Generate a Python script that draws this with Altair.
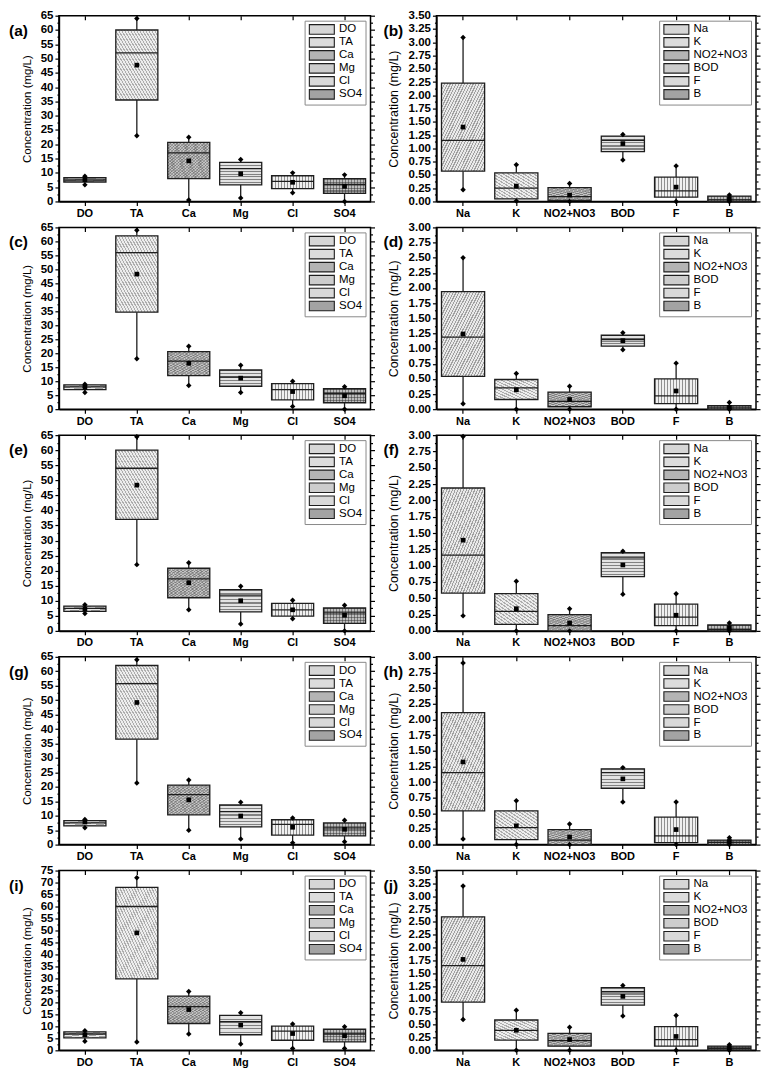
import math
import altair as alt
import pandas as pd

FONT = "Liberation Sans"

LEFT_CATS = ["DO", "TA", "Ca", "Mg", "Cl", "SO4"]
RIGHT_CATS = ["Na", "K", "NO2+NO3", "BOD", "F", "B"]
BASE_FILLS = ["#e9e9e9", "#ededed", "#c3c3c3", "#e3e3e3", "#f0f0f0", "#bdbdbd"]
LEGEND_FILLS = ["#d6d6d6", "#dcdcdc", "#b4b4b4", "#cdcdcd", "#d9d9d9", "#a3a3a3"]

# ---- panel (a) ----
A_LOW = [5.8, 23.0, 0.5, 1.2, 3.0, 0.0]
A_Q1 = [6.8, 35.5, 8.0, 5.8, 4.5, 2.8]
A_MED = [7.5, 52.0, 17.0, 11.5, 7.0, 6.0]
A_Q3 = [8.3, 60.0, 20.7, 13.7, 9.0, 8.0]
A_HIGH = [8.8, 64.0, 22.5, 14.7, 10.0, 9.3]
A_MEAN = [7.6, 47.7, 14.2, 9.7, 6.7, 5.3]
# ---- panel (b) ----
B_LOW = [0.22, 0.01, 0.0, 0.78, 0.0, 0.0]
B_Q1 = [0.57, 0.05, 0.02, 0.94, 0.08, 0.0]
B_MED = [1.15, 0.25, 0.09, 1.15, 0.20, 0.03]
B_Q3 = [2.23, 0.54, 0.26, 1.23, 0.46, 0.10]
B_HIGH = [3.09, 0.69, 0.34, 1.26, 0.67, 0.12]
B_MEAN = [1.40, 0.29, 0.12, 1.09, 0.27, 0.05]
# ---- panel (c) ----
C_LOW = [6.0, 18.0, 8.5, 6.0, 1.0, 0.0]
C_Q1 = [7.0, 34.7, 12.0, 8.2, 3.3, 2.3]
C_MED = [8.0, 56.0, 17.2, 11.5, 7.0, 5.6]
C_Q3 = [8.7, 62.0, 20.6, 14.0, 9.1, 7.3]
C_HIGH = [8.9, 64.0, 22.5, 15.7, 10.0, 8.0]
C_MEAN = [7.8, 48.3, 16.4, 11.1, 6.3, 4.8]
# ---- panel (d) ----
D_LOW = [0.09, 0.0, 0.0, 0.98, 0.0, 0.0]
D_Q1 = [0.54, 0.16, 0.04, 1.04, 0.09, 0.0]
D_MED = [1.19, 0.35, 0.13, 1.15, 0.22, 0.02]
D_Q3 = [1.94, 0.49, 0.28, 1.22, 0.50, 0.06]
D_HIGH = [2.50, 0.59, 0.38, 1.26, 0.76, 0.11]
D_MEAN = [1.24, 0.32, 0.16, 1.13, 0.30, 0.03]
# ---- panel (e) ----
E_LOW = [5.8, 22.0, 7.0, 2.3, 4.0, 0.0]
E_Q1 = [6.5, 37.0, 11.0, 6.3, 4.9, 2.5]
E_MED = [7.5, 54.0, 17.3, 11.9, 7.0, 6.0]
E_Q3 = [8.2, 60.0, 20.8, 13.7, 9.1, 7.6]
E_HIGH = [8.7, 64.5, 22.6, 14.8, 10.2, 8.5]
E_MEAN = [7.3, 48.4, 16.0, 10.0, 7.0, 5.2]
# ---- panel (f) ----
F_LOW = [0.23, 0.0, 0.0, 0.56, 0.0, 0.0]
F_Q1 = [0.58, 0.10, 0.0, 0.83, 0.08, 0.0]
F_MED = [1.16, 0.30, 0.08, 1.12, 0.21, 0.02]
F_Q3 = [2.19, 0.57, 0.25, 1.20, 0.41, 0.09]
F_HIGH = [2.98, 0.76, 0.34, 1.22, 0.57, 0.12]
F_MEAN = [1.39, 0.34, 0.12, 1.01, 0.24, 0.05]
# ---- panel (g) ----
G_LOW = [5.8, 21.3, 5.0, 1.9, 0.6, 1.0]
G_Q1 = [6.5, 36.5, 10.3, 6.1, 3.3, 3.0]
G_MED = [7.5, 55.7, 17.3, 11.4, 7.0, 5.8]
G_Q3 = [8.3, 62.0, 20.6, 13.7, 8.6, 7.5]
G_HIGH = [8.7, 64.0, 22.4, 14.7, 9.2, 8.4]
G_MEAN = [7.8, 49.2, 15.5, 9.9, 6.0, 5.3]
# ---- panel (h) ----
H_LOW = [0.09, 0.0, 0.0, 0.68, 0.0, 0.0]
H_Q1 = [0.54, 0.08, 0.0, 0.90, 0.03, 0.0]
H_MED = [1.15, 0.27, 0.07, 1.15, 0.14, 0.03]
H_Q3 = [2.11, 0.54, 0.24, 1.21, 0.44, 0.07]
H_HIGH = [2.90, 0.70, 0.33, 1.23, 0.68, 0.11]
H_MEAN = [1.32, 0.30, 0.12, 1.05, 0.24, 0.05]
# ---- panel (i) ----
I_LOW = [3.8, 3.5, 6.8, 2.6, 0.8, 0.8]
I_Q1 = [5.2, 29.8, 11.2, 6.5, 4.2, 3.5]
I_MED = [6.8, 60.0, 18.2, 12.0, 8.0, 6.8]
I_Q3 = [7.7, 68.0, 22.6, 14.6, 10.1, 8.8]
I_HIGH = [8.2, 72.0, 24.5, 15.7, 11.0, 9.8]
I_MEAN = [6.5, 49.0, 17.0, 10.5, 7.0, 6.1]
# ---- panel (j) ----
J_LOW = [0.60, 0.0, 0.0, 0.67, 0.0, 0.0]
J_Q1 = [0.94, 0.20, 0.08, 0.88, 0.08, 0.01]
J_MED = [1.65, 0.39, 0.19, 1.14, 0.21, 0.04]
J_Q3 = [2.60, 0.59, 0.33, 1.22, 0.46, 0.08]
J_HIGH = [3.20, 0.78, 0.45, 1.26, 0.68, 0.11]
J_MEAN = [1.77, 0.39, 0.21, 1.05, 0.27, 0.05]

LEFT_W, RIGHT_W = 312, 320
ROW_H = [186, 182, 196, 188, 180]
LEGEND_SYMBOL = "M-1,-1.19L5.25,-1.19L5.25,1.19L-1,1.19Z"
STROKE = "#1e1e1e"
BOX_FRAC = 0.81

# hatch style per category position: list of (kind, line colour, period px, line fraction)
HATCH = [
    [("diag1", "rgba(60,60,60,0.42)", 2.6, 0.4)],
    [("diag2", "rgba(60,60,60,0.36)", 2.6, 0.4)],
    [("diag1", "rgba(40,40,40,0.30)", 2.2, 0.45), ("diag2", "rgba(40,40,40,0.22)", 2.2, 0.45)],
    [("horiz", "rgba(50,50,50,0.55)", 3.0, 0.36)],
    [("vert", "rgba(50,50,50,0.50)", 3.0, 0.36)],
    [("horiz", "rgba(40,40,40,0.45)", 3.0, 0.36), ("vert", "rgba(40,40,40,0.45)", 3.0, 0.36)],
]


def stripe_gradient(kind, color, period, frac, w, h):
    w = max(w, 1.0)
    h = max(h, 1.0)
    if kind == "horiz":
        n = h / period
        coords = dict(x1=0, y1=0, x2=0, y2=1)
    elif kind == "vert":
        n = w / period
        coords = dict(x1=0, y1=0, x2=1, y2=0)
    else:
        n = 2.0 / (period * math.sqrt(1.0 / w ** 2 + 1.0 / h ** 2))
        coords = dict(x1=0, y1=0, x2=1, y2=1) if kind == "diag1" else dict(x1=1, y1=0, x2=0, y2=1)
    n = max(1, int(round(n)))
    clear = "rgba(255,255,255,0)"
    stops = []
    for k in range(n):
        a = k / n
        b = (k + frac) / n
        c = (k + 1) / n
        stops += [alt.GradientStop(offset=a, color=color),
                  alt.GradientStop(offset=b, color=color),
                  alt.GradientStop(offset=b, color=clear),
                  alt.GradientStop(offset=c, color=clear)]
    return alt.LinearGradient(gradient="linear", stops=stops, **coords)


def panel(tag, cats, low, q1, med, q3, high, mean, ymax, major, width, height,
          tag_x, title_size):
    df = pd.DataFrame({"cat": cats, "low": low, "q1": q1, "med": med,
                       "q3": q3, "high": high, "mean": mean})
    minor = major / 2.0
    n = int(round(ymax / minor))
    ticks = [round(i * minor, 4) for i in range(n + 1)]
    is_major = f"abs(datum.value/{major} - round(datum.value/{major})) < 0.001"
    fmt = "d" if major >= 1 else ".2f"

    xscale = alt.Scale(domain=cats, paddingInner=0, paddingOuter=0)
    yscale = alt.Scale(domain=[0, ymax], nice=False, zero=False)
    X0 = alt.X("cat:N", sort=cats, scale=xscale, axis=None)

    x_bottom = alt.Axis(orient="bottom", title=None, labelAngle=0, labelFont=FONT,
                        labelFontSize=11, labelFontWeight="bold", labelColor="black",
                        tickSize=4, tickColor="black", tickWidth=1.2, labelPadding=2,
                        domainColor="black", domainWidth=1.5)
    x_top = alt.Axis(orient="top", title=None, labels=False, domain=False,
                     tickSize=4, offset=-4, tickColor="black", tickWidth=1.2)
    y_left = alt.Axis(orient="left", values=ticks, format=fmt,
                      labelExpr=f"{is_major} ? datum.label : ''",
                      labelOverlap=False, labelFlush=False, labelBound=False,
                      labelFont=FONT, labelFontSize=11.5, labelFontWeight="bold",
                      labelColor="black", labelPadding=2,
                      tickSize={"condition": {"test": is_major, "value": 4}, "value": 2},
                      tickColor="black", tickWidth=1.2, domainColor="black",
                      domainWidth=1.5, grid=False, title="Concentration (mg/L)",
                      titleFont=FONT, titleFontSize=title_size, titleFontWeight="normal",
                      titleColor="black", titlePadding=8)
    y_right = alt.Axis(orient="right", values=ticks, labels=False, domain=False,
                       grid=False, title=None,
                       tickSize={"condition": {"test": is_major, "value": 4}, "value": 2},
                       tickColor="black", tickWidth=1.2)

    legend = alt.Legend(orient="top-right", offset=5, title=None, padding=3,
                        strokeColor="#8a8a8a", fillColor="white",
                        labelFont=FONT, labelFontSize=11.5, labelColor="black",
                        symbolType=LEGEND_SYMBOL, symbolSize=64,
                        symbolStrokeColor=STROKE, symbolStrokeWidth=1.1,
                        symbolOpacity=1, labelOffset=20, rowPadding=-5.5)

    base = alt.Chart(df)
    band = width / len(cats)
    bw = band * BOX_FRAC

    whisk = base.mark_rule(color=STROKE, strokeWidth=1.3).encode(
        x=alt.X("cat:N", sort=cats, scale=xscale, axis=x_bottom),
        y=alt.Y("low:Q", scale=yscale, axis=y_left),
        y2="high:Q",
    )
    # legend-carrying layer (flat swatch colours), fully covered by the hatched boxes
    legend_layer = base.mark_bar(width=alt.RelativeBandSize(BOX_FRAC), opacity=1,
                                 strokeWidth=0).encode(
        x=alt.X("cat:N", sort=cats, scale=xscale, axis=x_top),
        y=alt.Y("q1:Q", scale=yscale, axis=y_right),
        y2="q3:Q",
        fill=alt.Fill("cat:N", sort=cats,
                      scale=alt.Scale(domain=cats, range=LEGEND_FILLS), legend=legend),
    )
    box_layers = []
    for i, c in enumerate(cats):
        sub = base.transform_filter(alt.datum.cat == c)
        box_layers.append(
            sub.mark_bar(width=alt.RelativeBandSize(BOX_FRAC), fill=BASE_FILLS[i],
                         strokeWidth=0, opacity=1).encode(
                x=X0, y=alt.Y("q1:Q", scale=yscale, axis=None), y2="q3:Q"))
        hpx = (q3[i] - q1[i]) / ymax * height
        for kind, color, period, frac in HATCH[i]:
            grad = stripe_gradient(kind, color, period, frac, bw, hpx)
            box_layers.append(
                sub.mark_bar(width=alt.RelativeBandSize(BOX_FRAC), fill=grad,
                             strokeWidth=0, opacity=1).encode(
                    x=X0, y=alt.Y("q1:Q", scale=yscale, axis=None), y2="q3:Q"))
    outline = base.mark_bar(width=alt.RelativeBandSize(BOX_FRAC), fillOpacity=0,
                            stroke=STROKE, strokeWidth=1.3).encode(
        x=X0, y=alt.Y("q1:Q", scale=yscale, axis=None), y2="q3:Q")
    median = base.mark_tick(size=bw, thickness=1.3, color=STROKE, opacity=1).encode(
        x=X0, y=alt.Y("med:Q", scale=yscale, axis=None))
    lows = base.mark_point(shape="diamond", filled=True, size=30, color="black",
                           opacity=1).encode(
        x=X0, y=alt.Y("low:Q", scale=yscale, axis=None))
    highs = base.mark_point(shape="diamond", filled=True, size=30, color="black",
                            opacity=1).encode(
        x=X0, y=alt.Y("high:Q", scale=yscale, axis=None))
    means = base.mark_point(shape="square", filled=True, size=22, color="black",
                            opacity=1).encode(
        x=X0, y=alt.Y("mean:Q", scale=yscale, axis=None))
    label = alt.Chart(pd.DataFrame({"t": [tag]})).mark_text(
        font=FONT, fontSize=15.5, fontWeight="bold", align="left",
        baseline="middle", color="black").encode(
        text="t:N", x=alt.value(tag_x), y=alt.value(15))

    layers = [whisk, legend_layer] + box_layers + [outline, median, lows, highs, means, label]
    return alt.layer(*layers).resolve_axis(
        x="independent", y="independent").properties(width=width, height=height)


panels = [
    panel("(a)", LEFT_CATS, A_LOW, A_Q1, A_MED, A_Q3, A_HIGH, A_MEAN, 65, 5, LEFT_W, ROW_H[0], -50, 11.5),
    panel("(b)", RIGHT_CATS, B_LOW, B_Q1, B_MED, B_Q3, B_HIGH, B_MEAN, 3.5, 0.25, RIGHT_W, ROW_H[0], -53, 12.5),
    panel("(c)", LEFT_CATS, C_LOW, C_Q1, C_MED, C_Q3, C_HIGH, C_MEAN, 65, 5, LEFT_W, ROW_H[1], -50, 11.5),
    panel("(d)", RIGHT_CATS, D_LOW, D_Q1, D_MED, D_Q3, D_HIGH, D_MEAN, 3.0, 0.25, RIGHT_W, ROW_H[1], -53, 12.5),
    panel("(e)", LEFT_CATS, E_LOW, E_Q1, E_MED, E_Q3, E_HIGH, E_MEAN, 65, 5, LEFT_W, ROW_H[2], -50, 11.5),
    panel("(f)", RIGHT_CATS, F_LOW, F_Q1, F_MED, F_Q3, F_HIGH, F_MEAN, 3.0, 0.25, RIGHT_W, ROW_H[2], -53, 12.5),
    panel("(g)", LEFT_CATS, G_LOW, G_Q1, G_MED, G_Q3, G_HIGH, G_MEAN, 65, 5, LEFT_W, ROW_H[3], -50, 11.5),
    panel("(h)", RIGHT_CATS, H_LOW, H_Q1, H_MED, H_Q3, H_HIGH, H_MEAN, 3.0, 0.25, RIGHT_W, ROW_H[3], -53, 12.5),
    panel("(i)", LEFT_CATS, I_LOW, I_Q1, I_MED, I_Q3, I_HIGH, I_MEAN, 75, 5, LEFT_W, ROW_H[4], -50, 11.5),
    panel("(j)", RIGHT_CATS, J_LOW, J_Q1, J_MED, J_Q3, J_HIGH, J_MEAN, 3.5, 0.25, RIGHT_W, ROW_H[4], -53, 12.5),
]

chart = alt.concat(*panels, columns=2, spacing={"row": 26, "column": 66},
                   bounds="flush", align="each").resolve_scale(
    fill="independent").resolve_legend(fill="independent").configure_view(
    stroke="black", strokeWidth=1.5).properties(
    padding={"left": 0, "top": 0, "right": 0, "bottom": 0}, background="white")

chart.save("out.html", embed_options={"renderer": "svg", "actions": False})
